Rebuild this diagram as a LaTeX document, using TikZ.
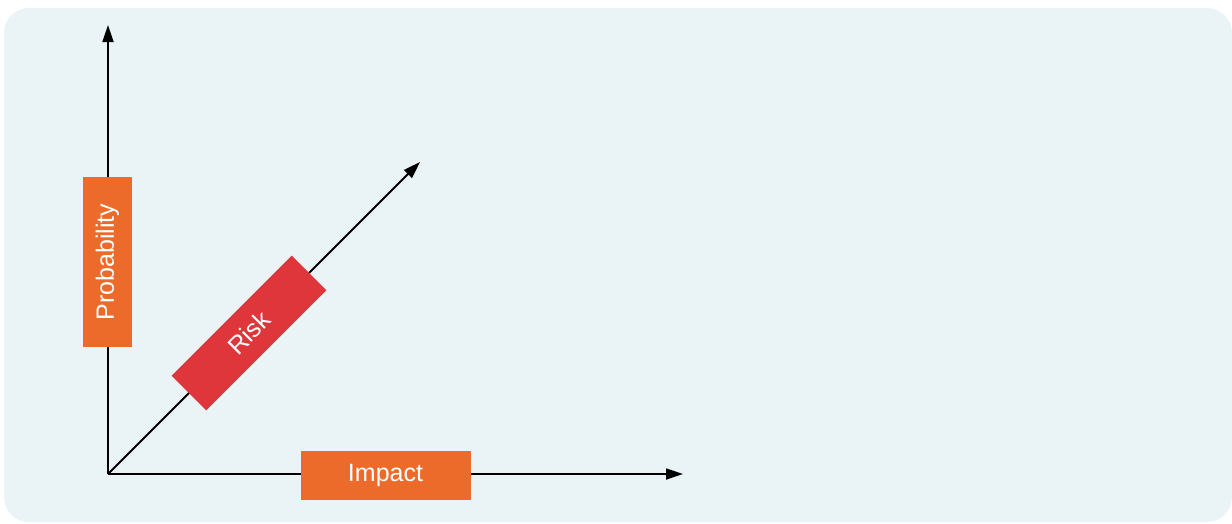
\documentclass[tikz,border=0pt]{standalone}
\usepackage{fontspec}
\setmainfont{Liberation Sans}
\usetikzlibrary{arrows.meta, positioning}
\definecolor{panelbg}{HTML}{EAF3F5}
\definecolor{myorange}{HTML}{EC6B2B}
\definecolor{myred}{HTML}{DF363C}
\tikzset{>={Triangle[length=17pt,width=11pt]}}
\tikzset{
  axis/.style={->, line width=1.8pt},
  labelbox/.style={fill=#1, text=white, minimum width=170pt, minimum height=49pt,
    inner sep=0pt, font=\fontsize{25}{30}\selectfont},
}

\begin{document}
\begin{tikzpicture}[x=1pt,y=-1pt]
  \useasboundingbox (0,0) rectangle (1232,523);
  \fill[panelbg, rounded corners=25pt] (4,8) rectangle (1232,522);
  % axes
  \coordinate (origin) at (108,474);
  \coordinate (probend) at (108,25);
  \coordinate (impactend) at (683,474);
  \coordinate (riskend) at (420,162);
  \draw[axis] (origin) -- (probend);
  \draw[axis] (origin) -- (impactend);
  \draw[axis] (origin) -- (riskend);
  % labels
  \node[labelbox=myorange, rotate=90] (probability) at (107.5,262) {Probability};
  \node[labelbox=myorange] (impact) at (385.5,475) {Impact};
  \node[labelbox=myred, rotate=45] (risk) at (249,333) {Risk};
\end{tikzpicture}
\end{document}
